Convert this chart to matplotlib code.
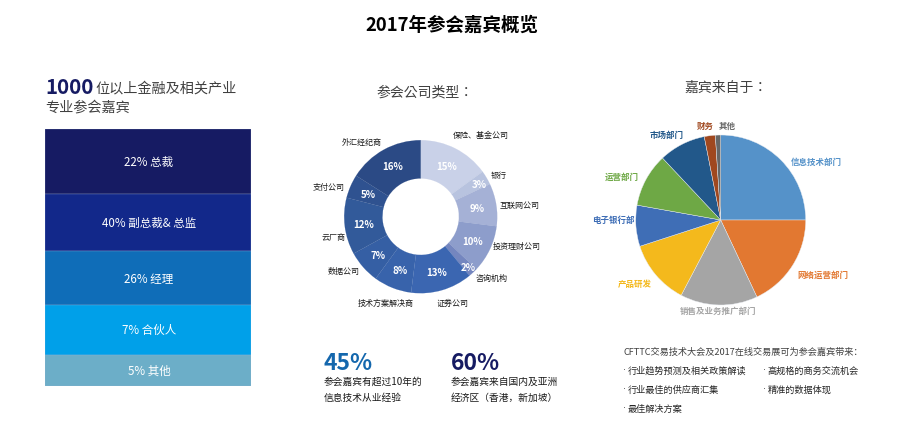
import matplotlib
matplotlib.use("Agg")
from matplotlib import pyplot as plt

plt.rcParams['font.family'] = ['Noto Sans CJK SC', 'DejaVu Sans']

W, H = 913, 427

# 左边的职位条
band_labels = ["22% 总裁", "40% 副总裁& 总监", "26% 经理", "7% 合伙人", "5% 其他"]
band_heights = [65, 57, 54, 50, 31]
band_colors = ["#161b63", "#12288a", "#0f6db8", "#00a0e9", "#6caec8"]

# 参会公司类型
company_names = ["保险、基金公司", "银行", "互联网公司", "投资理财公司", "咨询机构", "证券公司",
                 "技术方案解决商", "数据公司", "云厂商", "支付公司", "外汇经纪商"]
company_values = [15, 3, 9, 10, 2, 13, 8, 7, 12, 5, 16]
company_colors = ["#c9d1e8", "#b8c3df", "#a5b1d6", "#8d9dcb", "#7486bf", "#3b66b1",
                  "#3863ab", "#355fa4", "#325a9a", "#2f5290", "#2b4a85"]

# 嘉宾来自于
dept_names = ["信息技术部门", "网络运营部门", "销售及业务推广部门", "产品研发", "电子银行部",
              "运营部门", "市场部门", "财务", "其他"]
dept_values = [25, 18, 14.7, 12.3, 7.8, 10.2, 8.9, 2.1, 1]
dept_colors = ["#5592c9", "#e27831", "#a5a5a5", "#f4b91c", "#3f6eb6",
               "#6ea845", "#22588a", "#a0481f", "#666666"]

benefit_items = ["行业趋势预测及相关政策解读", "高规格的商务交流机会", "行业最佳的供应商汇集", "精准的数据体现", "最佳解决方案"]


def px_axes(left, top, width, height):
    return fig.add_axes([left / W, 1 - (top + height) / H, width / W, height / H])


fig = plt.figure(figsize=(W / 100, H / 100), dpi=100)

# 整张图的文字层，坐标就是像素
bg = px_axes(0, 0, W, H)
bg.set_xlim(0, W)
bg.set_ylim(H, 0)
bg.axis("off")

bg.text(452, 25, "2017年参会嘉宾概览", fontsize=13.3, fontweight="bold", ha="center", va="center", color="black")

bg.text(45, 87, "1000", fontsize=14.8, fontweight="bold", color="#161b63", ha="left", va="center")
bg.text(95, 88, "位以上金融及相关产业", fontsize=10.2, color="#404040", ha="left", va="center")
bg.text(45, 108, "专业参会嘉宾", fontsize=10.2, color="#404040", ha="left", va="center")

# 繁体字体的全角冒号在格子中间，和原图一样
colon_font = ['Noto Sans CJK TC', 'DejaVu Sans']
bg.text(376, 92, "参会公司类型：", fontsize=10, color="#404040", ha="left", va="center", family=colon_font)
bg.text(684, 88, "嘉宾来自于：", fontsize=10, color="#404040", ha="left", va="center", family=colon_font)

# 职位条
ax = px_axes(45, 130, 206, 257)
ax.set_xlim(0, 1)
ax.set_ylim(sum(band_heights), 0)
ax.axis("off")
bottom = 0
for label, h, c in zip(band_labels, band_heights, band_colors):
    ax.bar(0.5, h, width=1, bottom=bottom, color=c, edgecolor="#9fb4d4", linewidth=0.2)
    ax.text(0.505, bottom + h / 2, label, color="white", fontsize=8.3, ha="center", va="center")
    bottom += h

# 环形图
ax = px_axes(420.7 - 76.5, 217.7 - 76.5, 153, 153)
wedges, _, pcts = ax.pie(company_values, colors=company_colors, startangle=90, counterclock=False,
                         radius=1, wedgeprops=dict(width=0.5, linewidth=0.1),
                         autopct=lambda p: f"{p:.0f}%", pctdistance=0.75,
                         textprops=dict(color="white", fontsize=7, fontweight="bold"))
for w in wedges:
    w.set_edgecolor(w.get_facecolor())
ax.set_xlim(-1, 1)
ax.set_ylim(-1, 1)
# 3% 和 2% 在原图里被挪开了
pcts[1].set_position((0.76, 0.43))
pcts[4].set_position((0.62, -0.66))

company_pos = [(481, 136), (499, 175), (520, 205), (517, 246), (492, 278), (453, 303),
               (386, 303), (344, 272), (334, 238), (329, 188), (362, 143)]
for name, (x, y) in zip(company_names, company_pos):
    bg.text(x, y, name, fontsize=5.8, color="#1a1a1a", ha="center", va="center")

# 饼图
ax = px_axes(720.7 - 85, 221 - 85, 170, 170)
ax.pie(dept_values, colors=dept_colors, startangle=90, counterclock=False, radius=1,
       wedgeprops=dict(edgecolor="#e8ecf2", linewidth=0.3))
ax.set_xlim(-1, 1)
ax.set_ylim(-1, 1)

dept_pos = [(816, 162), (823, 275), (718, 311), (635, 284), (613, 220),
            (622, 177), (667, 135), (705, 126), (727, 126)]
for name, (x, y), c in zip(dept_names, dept_pos, dept_colors):
    bg.text(x, y, name, fontsize=6.1, fontweight="bold", color=c, ha="center", va="center")

# 底部两个数字
bg.text(324, 364, "45%", fontsize=16.5, fontweight="bold", color="#1467ad", ha="left", va="center")
bg.text(324, 382, "参会嘉宾有超过10年的", fontsize=7, color="#1a1a1a", ha="left", va="center")
bg.text(324, 398, "信息技术从业经验", fontsize=7, color="#1a1a1a", ha="left", va="center")
bg.text(451, 364, "60%", fontsize=16.5, fontweight="bold", color="#161b63", ha="left", va="center")
bg.text(451, 382, "参会嘉宾来自国内及亚洲", fontsize=7, color="#1a1a1a", ha="left", va="center")
bg.text(451, 398, "经济区（香港，新加坡）", fontsize=7, color="#1a1a1a", ha="left", va="center")

# 右下角说明
bg.text(623, 352, "CFTTC交易技术大会及2017在线交易展可为参会嘉宾带来：", fontsize=6.6, color="#404040", ha="left", va="center")
benefit_pos = [(623, 371), (763, 371), (623, 390), (763, 390), (623, 409)]
for item, (x, y) in zip(benefit_items, benefit_pos):
    # 圆点用 DejaVu，CJK 字体里的点是全角的，会压到后面的字
    bg.text(x, y, "·", fontsize=6.6, color="#262626", ha="left", va="center", family="DejaVu Sans")
    bg.text(x + 5, y, item, fontsize=6.6, color="#262626", ha="left", va="center")

plt.savefig("out.png", dpi=100)
